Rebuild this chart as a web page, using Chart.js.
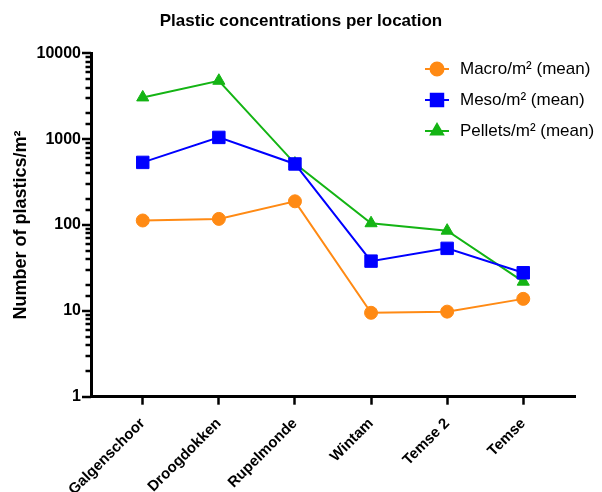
<!DOCTYPE html>
<html>
<head>
<meta charset="utf-8">
<script src="https://cdn.jsdelivr.net/npm/chart.js@4.4.1/dist/chart.umd.min.js"></script>
<style>
    html, body { margin: 0; padding: 0; background: #fff; }
    #wrap { width: 602px; height: 492px; }
</style>
</head>
<body>
<div id="wrap"><canvas id="plastic-chart" width="602" height="492"></canvas></div>
<script>
// locations on the x axis
const locations = ['Galgenschoor', 'Droogdokken', 'Rupelmonde', 'Wintam', 'Temse 2', 'Temse'];

// mean counts per m²
const macroMean = [113, 118, 189, 9.5, 9.8, 13.8];
const mesoMean = [537, 1050, 515, 38, 53.5, 27.8];
const pelletsMean = [3070, 4800, 520, 105, 86, 21.9];

const yTickLabels = [1, 10, 100, 1000, 10000];

const FONT = "'Liberation Sans', Arial, sans-serif";

function toPoints(values) {
    return values.map((v, i) => ({ x: i, y: v }));
}

function isDecade(v) {
    const l = Math.log10(v);
    return Math.abs(l - Math.round(l)) < 1e-9;
}

// centre the title over the whole canvas, not just the padded area
const titleOverCanvas = {
    id: 'titleOverCanvas',
    afterLayout(chart) {
        const t = chart.titleBlock;
        if (!t) return;
        t.left = 0;
        t.right = chart.width;
        t.width = chart.width;
    }
};

// y axis tick marks: long for decades, short for the in-between ones
const yTickMarks = {
    id: 'yTickMarks',
    afterDraw(chart) {
        const scale = chart.scales.y;
        const ctx = chart.ctx;
        ctx.save();
        ctx.strokeStyle = '#000';
        ctx.lineWidth = 2.5;
        scale.ticks.forEach(t => {
            const py = Math.round(scale.getPixelForValue(t.value));
            const len = isDecade(t.value) ? 9 : 5.5;
            ctx.beginPath();
            ctx.moveTo(scale.right - len, py);
            ctx.lineTo(scale.right, py);
            ctx.stroke();
        });
        ctx.restore();
    }
};

// legend drawn in the top right corner, over the plot
const cornerLegend = {
    id: 'cornerLegend',
    afterDraw(chart) {
        const ctx = chart.ctx;
        ctx.save();
        chart.data.datasets.forEach((ds, i) => {
            const y = 69 + i * 31;
            ctx.strokeStyle = ds.borderColor;
            ctx.lineWidth = 2;
            ctx.beginPath();
            ctx.moveTo(425, y);
            ctx.lineTo(449, y);
            ctx.stroke();
            ctx.fillStyle = ds.backgroundColor;
            Chart.helpers.drawPoint(ctx, {
                pointStyle: ds.pointStyle,
                radius: ds.pointRadius,
                borderWidth: ds.pointBorderWidth,
                rotation: 0
            }, 437, y);
            ctx.fillStyle = '#000';
            ctx.font = '17px ' + FONT;
            ctx.textBaseline = 'middle';
            ctx.textAlign = 'left';
            ctx.fillText(ds.label, 460, y);
        });
        ctx.restore();
    }
};

function series(label, values, color, style, radius) {
    return {
        label: label,
        data: toPoints(values),
        borderColor: color,
        backgroundColor: color,
        borderWidth: 2,
        pointStyle: style,
        pointRadius: radius,
        pointHoverRadius: radius,
        pointBorderWidth: 1,
        pointBackgroundColor: color,
        pointBorderColor: color,
        tension: 0
    };
}

new Chart(document.getElementById('plastic-chart'), {
    type: 'line',
    data: {
        datasets: [
            series('Macro/m² (mean)', macroMean, '#FF8A14', 'circle', 6.5),
            series('Meso/m² (mean)', mesoMean, '#0000FF', 'rect', 8.8),
            series('Pellets/m² (mean)', pelletsMean, '#14B414', 'triangle', 7)
        ]
    },
    options: {
        responsive: false,
        animation: false,
        layout: { padding: { left: 0, right: 27, top: 0, bottom: 0 } },
        plugins: {
            legend: { display: false },
            tooltip: { enabled: false },
            title: {
                display: true,
                text: 'Plastic concentrations per location',
                color: '#000',
                font: { family: FONT, size: 17, weight: 'bold' },
                padding: { top: 11, bottom: 22 }
            }
        },
        scales: {
            x: {
                type: 'linear',
                min: -0.68,
                max: 5.68,
                afterBuildTicks: scale => {
                    scale.ticks = locations.map((_, i) => ({ value: i }));
                },
                afterFit: scale => { scale.height = 95.3; },
                ticks: {
                    autoSkip: false,
                    minRotation: 45,
                    maxRotation: 45,
                    padding: 10,
                    color: '#000',
                    font: { family: FONT, size: 15, weight: 'bold' },
                    callback: v => locations[v]
                },
                grid: {
                    drawOnChartArea: false,
                    drawTicks: true,
                    tickLength: 8,
                    tickWidth: 2.5,
                    tickColor: '#000'
                },
                border: { display: true, color: '#000', width: 3 }
            },
            y: {
                type: 'logarithmic',
                min: 1,
                max: 10000,
                afterFit: scale => { scale.width = 91; },
                ticks: {
                    autoSkip: false,
                    padding: 10,
                    color: '#000',
                    font: { family: FONT, size: 16, weight: 'bold' },
                    callback: v => yTickLabels.includes(v) ? String(v) : ''
                },
                grid: {
                    drawOnChartArea: false,
                    drawTicks: false
                },
                border: { display: true, color: '#000', width: 3 },
                title: {
                    display: true,
                    text: 'Number of plastics/m²',
                    color: '#000',
                    font: { family: FONT, size: 18, weight: 'bold' },
                    padding: { top: 10, bottom: 0 }
                }
            }
        }
    },
    plugins: [titleOverCanvas, yTickMarks, cornerLegend]
});
</script>
</body>
</html>
